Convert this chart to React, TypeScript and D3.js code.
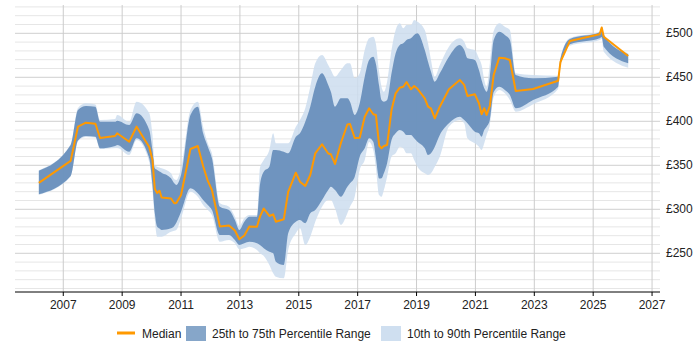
import React from "react";
import * as d3 from "d3";

const dates = [2006.17, 2007.25, 2007.5, 2007.77, 2008.09, 2008.25, 2008.76, 2008.83, 2009.24, 2009.49, 2009.92, 2010.03, 2010.11, 2010.19, 2010.27, 2010.34, 2010.66, 2010.77, 2010.84, 2011.0, 2011.32, 2011.57, 2011.75, 2011.91, 2012.05, 2012.32, 2012.63, 2012.83, 2012.98, 2013.15, 2013.32, 2013.58, 2013.68, 2013.81, 2014.0, 2014.13, 2014.22, 2014.49, 2014.64, 2014.9, 2015.04, 2015.22, 2015.39, 2015.56, 2015.79, 2016.0, 2016.09, 2016.23, 2016.43, 2016.65, 2016.74, 2016.9, 2017.07, 2017.24, 2017.39, 2017.53, 2017.62, 2017.73, 2017.81, 2017.89, 2018.0, 2018.15, 2018.29, 2018.43, 2018.55, 2018.66, 2018.81, 2018.92, 2019.03, 2019.28, 2019.39, 2019.49, 2019.62, 2019.79, 2020.1, 2020.47, 2020.62, 2020.73, 2020.98, 2021.12, 2021.21, 2021.3, 2021.38, 2021.49, 2021.62, 2021.81, 2022.0, 2022.17, 2022.37, 2022.96, 2023.81, 2023.89, 2024.21, 2025.22, 2025.29, 2025.36, 2026.19];

const median = [330, 355, 394, 398.4, 397.3, 381, 383.3, 386.4, 376.8, 393.9, 370.8, 356, 323.1, 318.5, 321.1, 313.4, 312.3, 306.8, 307.2, 316.2, 368.5, 371.9, 349.2, 332.2, 321.9, 280.5, 281.6, 275.9, 265.9, 270.2, 280.5, 280.1, 291.6, 300.9, 292.4, 294.3, 285.9, 288.6, 319.7, 341.6, 331.4, 326.5, 339, 363.6, 373.9, 363.4, 362.5, 351.5, 375.3, 396.4, 396.9, 381, 381.4, 405.2, 414.8, 408, 407.2, 372.5, 369.3, 371.9, 373.1, 412.8, 431.8, 438.2, 439.3, 444.7, 436.4, 440.1, 437, 426.1, 416.6, 414.8, 403.4, 416.6, 436.4, 446.9, 441.3, 428.8, 430.7, 420.5, 408, 414.8, 407.2, 417.4, 452.6, 472.3, 471.6, 469.7, 434.4, 436.7, 446.1, 467.7, 491.3, 498.9, 506.6, 496.1, 474.2];

const p75 = [343.9, 373, 412.8, 417.4, 416.6, 399.5, 399.5, 400.7, 395.8, 409.1, 390.1, 367.4, 346.6, 344.7, 343, 341.6, 335.2, 329.5, 327.6, 339, 407.2, 416.6, 386.4, 371.1, 358, 303, 299.2, 287.8, 276.5, 285.9, 291.6, 291.6, 327.6, 342.7, 348.4, 367.4, 367.4, 365.4, 363.6, 382.5, 386.4, 399.5, 416.6, 439.3, 454.5, 441.3, 433.6, 416.6, 426.1, 426.1, 422.3, 407.2, 420.4, 450.7, 469.7, 473.4, 465.1, 440.1, 424.2, 422.3, 424.2, 454.5, 477.3, 486.7, 488.6, 492.4, 494.3, 498.1, 500, 481, 467.7, 456.3, 445, 454.5, 473.4, 486.7, 481, 471.6, 469.7, 458.3, 446.9, 437.5, 433.6, 450.7, 492.4, 501.8, 498.1, 492.4, 452.6, 448.9, 450.7, 471.6, 493.5, 501.1, 507.2, 498.1, 476.1];

const p25 = [317, 337.8, 378.2, 383.3, 382.5, 369.3, 371.9, 373.1, 365.4, 380.7, 357.9, 327.6, 295.4, 280.2, 278.2, 276.5, 278.4, 281, 284.8, 297.3, 323.9, 318.2, 310.6, 304.9, 299.2, 270.8, 270.8, 265.1, 259.4, 261.4, 263.2, 261.4, 259.4, 255.7, 251.8, 250, 240.4, 236.7, 272.7, 285.9, 287.8, 284.1, 295.4, 299.2, 310.6, 321.9, 325.7, 321.9, 314.3, 325.7, 329.5, 337.1, 359.8, 369.3, 380.7, 376.8, 358.3, 335, 335.2, 340.9, 352.3, 378.7, 386.4, 390.1, 388.2, 384.4, 384.4, 380.7, 376.8, 369.3, 361.7, 363.6, 371.1, 384.4, 397.7, 405.2, 401.5, 397.7, 388.2, 386.4, 382.5, 390.1, 393.9, 401.5, 433.3, 439.3, 435.6, 429.9, 414.8, 424.2, 439.3, 464, 487.5, 494.3, 495.8, 484.8, 465.9];

const p90 = [344.3, 373.5, 415.1, 420.4, 419.1, 401.5, 402.6, 407.2, 399.5, 422.3, 409.4, 384.4, 350.3, 348.4, 347.5, 346.6, 340.9, 334.1, 333.3, 346.6, 412.8, 422.3, 393.9, 375, 363.6, 306.8, 303, 291.6, 281, 289.8, 293.5, 293.5, 346.9, 356, 367.4, 386.4, 375, 375, 375, 393.9, 401.5, 414.8, 439.3, 465.9, 475.3, 464, 458.3, 450.7, 458.3, 465.9, 465.9, 448.9, 454.5, 481, 494.3, 496.1, 487.8, 456, 439.3, 433.6, 445, 481, 503.8, 511.4, 505.7, 509.4, 509.4, 515.1, 513.2, 503.8, 488.6, 469.7, 450.7, 464, 484.8, 494.3, 490.5, 483, 481, 471.6, 464, 446.9, 439.3, 465.9, 502.6, 511.4, 507.5, 503.8, 454.5, 452.6, 451.8, 472.5, 494.7, 501.8, 507.7, 498.6, 477.3];

const p10 = [316.5, 337.3, 377.6, 382.2, 381.6, 368.5, 369.7, 369.7, 361.7, 378.7, 353.7, 321.9, 287.8, 268.9, 268.9, 268.9, 274.5, 275.7, 276.5, 289.8, 320, 314.3, 304.9, 299.2, 293.5, 263.2, 265.1, 261.4, 254.5, 255.7, 257.5, 253.7, 250, 246.9, 236.7, 227.3, 223.4, 221.6, 253.7, 272.7, 278.4, 259.4, 268.9, 285.9, 303, 310.6, 310.6, 301.1, 282.2, 295.4, 303, 314.3, 344.7, 356, 376.5, 367.4, 346.9, 316.3, 314.3, 321.9, 337.1, 359.8, 363.6, 371.1, 369.3, 363.6, 363.6, 356, 348.4, 340.9, 339, 340.9, 348.4, 359.8, 393.9, 401.5, 397.7, 380.7, 375, 371.1, 367.4, 375, 384.4, 395.8, 427.6, 435.6, 431.8, 424.2, 410.9, 419.3, 436.7, 462.8, 485.9, 492.4, 493.5, 479.1, 460.9];

const xTicks = [2007, 2009, 2011, 2013, 2015, 2017, 2019, 2021, 2023, 2025, 2027];
const yTicks = [250, 300, 350, 400, 450, 500];
const legendLabels = ["Median", "25th to 75th Percentile Range", "10th to 90th Percentile Range"];

export default function App() {
  const W = 700;
  const H = 350;
  const left = 15;
  const right = 660;
  const bottom = 292;
  const x = d3.scaleLinear().domain([2005.36, 2027.27]).range([left, right]);
  const y = d3.scaleLinear().domain([206, 532.5]).range([bottom, 4.7]);
  const idx = dates.map((_, i) => i);

  const outer = d3
    .area<number>()
    .x((i) => x(dates[i]))
    .y0((i) => y(p10[i]))
    .y1((i) => y(p90[i]))
    .curve(d3.curveMonotoneX);
  const inner = d3
    .area<number>()
    .x((i) => x(dates[i]))
    .y0((i) => y(p25[i]))
    .y1((i) => y(p75[i]))
    .curve(d3.curveMonotoneX);
  const line = d3
    .line<number>()
    .x((i) => x(dates[i]))
    .y((i) => y(median[i]));

  const minor = d3.range(210, 531, 10);
  const font = "'Liberation Sans', Arial, sans-serif";

  return (
    <svg
      width={W}
      height={H}
      style={{ position: "absolute", left: 0, top: 0, display: "block", background: "#fff" }}
      fontFamily={font}
    >
      {minor.map((v) => (
        <line
          key={"m" + v}
          x1={left}
          x2={right}
          y1={y(v)}
          y2={y(v)}
          stroke={v % 50 === 0 ? "#cfcfcf" : "#e6e6e6"}
          strokeWidth={1}
        />
      ))}
      {xTicks.map((t) => (
        <line key={"v" + t} x1={x(t)} x2={x(t)} y1={5} y2={bottom} stroke="#cccccc" strokeWidth={1} />
      ))}
      <path d={outer(idx) || ""} fill="rgb(204,221,238)" fillOpacity={0.85} />
      <path d={inner(idx) || ""} fill="rgb(100,140,185)" fillOpacity={0.9} />
      <path d={line(idx) || ""} fill="none" stroke="#ff9900" strokeWidth={2} strokeLinejoin="round" />
      <line x1={left} x2={right} y1={bottom} y2={bottom} stroke="#000" strokeWidth={1} />
      {xTicks.map((t) => (
        <g key={"t" + t}>
          <line x1={x(t)} x2={x(t)} y1={bottom} y2={bottom + 4} stroke="#000" />
          <text x={x(t)} y={bottom + 17} textAnchor="middle" fontSize={12} fill="#222">
            {t}
          </text>
        </g>
      ))}
      {yTicks.map((v) => (
        <text key={"y" + v} x={666} y={y(v) + 4} fontSize={12} fill="#222">
          {"£" + v}
        </text>
      ))}
      <line x1={117} x2={135} y1={333} y2={333} stroke="#ff9900" strokeWidth={3} />
      <text x={142} y={337.5} fontSize={12} fill="#222">
        {legendLabels[0]}
      </text>
      <rect x={186} y={326} width={20} height={15} fill="#86a6c9" />
      <text x={212} y={337.5} fontSize={12} fill="#222">
        {legendLabels[1]}
      </text>
      <rect x={381} y={326} width={20} height={15} fill="#cfdff0" />
      <text x={407} y={337.5} fontSize={12} fill="#222">
        {legendLabels[2]}
      </text>
    </svg>
  );
}
